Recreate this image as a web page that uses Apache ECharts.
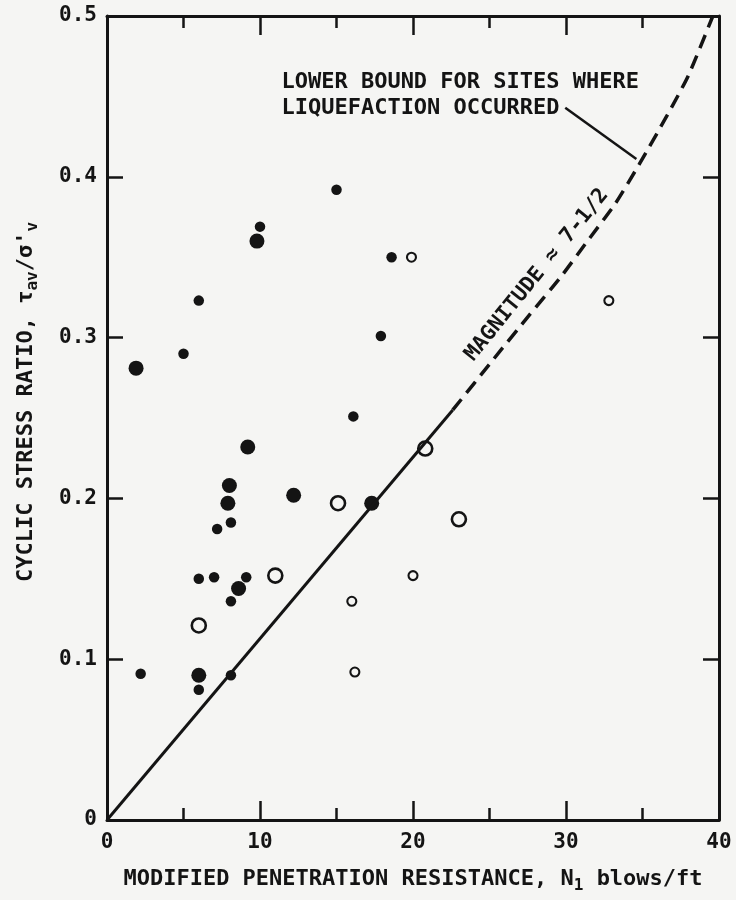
<!DOCTYPE html>
<html>
<head>
<meta charset="utf-8">
<script src="https://cdn.jsdelivr.net/npm/echarts@6/dist/echarts.min.js"></script>
<style>
  html, body { margin: 0; padding: 0; background: #f5f5f3; }
  #chart { width: 736px; height: 900px; }
</style>
</head>
<body>
<div id="chart"></div>
<script>
// sites where liquefaction occurred (filled) and did not (open), [N1, ratio]
const liqLarge = [[1.9, 0.281], [9.8, 0.360], [9.2, 0.232], [8.0, 0.208], [7.9, 0.197],
  [12.2, 0.202], [17.3, 0.197], [8.6, 0.144], [6.0, 0.090]]
const liqSmall = [[5.0, 0.290], [6.0, 0.323], [10.0, 0.369], [15.0, 0.392], [18.6, 0.350],
  [17.9, 0.301], [16.1, 0.251], [8.1, 0.185], [7.2, 0.181], [6.0, 0.150], [7.0, 0.151],
  [9.1, 0.151], [8.1, 0.136], [2.2, 0.091], [6.0, 0.081], [8.1, 0.090]]
const noLiqLarge = [[11.0, 0.152], [6.0, 0.121], [15.1, 0.197], [20.8, 0.231], [23.0, 0.187]]
const noLiqSmall = [[19.9, 0.350], [32.8, 0.323], [20.0, 0.152], [16.0, 0.136], [16.2, 0.092]]

// lower bound curve
const boundSolid = [[0, 0], [22.6, 0.255]]
const boundDashed = [[22.6, 0.255], [25.3, 0.287], [27.6, 0.314], [29.6, 0.337], [31.4, 0.360],
  [33.2, 0.383], [34.8, 0.408], [36.6, 0.438], [38.0, 0.463], [39.6, 0.5]]

// annotations
const boundNote = [11.4, 0.451]
const boundNoteText = 'LOWER BOUND FOR SITES WHERE\nLIQUEFACTION OCCURRED'
const arrowFrom = [29.95, 0.443]
const arrowTo = [34.6, 0.411]
const magNote = [28.1, 0.339]
const magNoteText = 'MAGNITUDE \u2248 7-1/2'

const ink = '#141414'
const paper = '#f5f5f3'
const font = 'DejaVu Sans Mono'

const chart = echarts.init(document.getElementById('chart'))

const xBase = {
  type: 'value', min: 0, max: 40, interval: 10,
  axisLine: { show: true, onZero: false, lineStyle: { color: ink, width: 3 } },
  axisTick: { show: true, inside: true, length: 19, lineStyle: { color: ink, width: 2.5 } },
  minorTick: { show: true, splitNumber: 2, length: 12, lineStyle: { color: ink, width: 2.5 } },
  splitLine: { show: false }
}
const yBase = {
  type: 'value', min: 0, max: 0.5, interval: 0.1,
  axisLine: { show: true, onZero: false, lineStyle: { color: ink, width: 3 } },
  axisTick: { show: true, inside: true, length: 16, lineStyle: { color: ink, width: 2.5 } },
  splitLine: { show: false }
}

chart.setOption({
  backgroundColor: paper,
  animation: false,
  grid: { left: 107, right: 17, top: 16, bottom: 80 },
  xAxis: [
    Object.assign({}, xBase, {
      position: 'bottom',
      axisLabel: { color: ink, fontFamily: font, fontSize: 21, fontWeight: 'bold', margin: 12 },
      name: 'MODIFIED PENETRATION RESISTANCE, N{s|1} blows/ft',
      nameLocation: 'middle',
      nameGap: 44,
      nameTextStyle: {
        color: ink, fontFamily: font, fontSize: 22, fontWeight: 'bold', lineHeight: 30,
        rich: { s: { fontFamily: font, fontSize: 16, fontWeight: 'bold', color: ink, lineHeight: 14, verticalAlign: 'bottom' } }
      }
    }),
    Object.assign({}, xBase, { position: 'top', axisLabel: { show: false } })
  ],
  yAxis: [
    Object.assign({}, yBase, {
      position: 'left',
      axisLabel: { color: ink, fontFamily: font, fontSize: 21, fontWeight: 'bold', margin: 10 },
      name: 'CYCLIC STRESS RATIO, \u03c4{s|av}/\u03c3\'{s|v}',
      nameLocation: 'middle',
      nameRotate: 90,
      nameGap: 66,
      nameTextStyle: {
        color: ink, fontFamily: font, fontSize: 22, fontWeight: 'bold', lineHeight: 30,
        padding: [0, 0, 0, 32],
        rich: { s: { fontFamily: font, fontSize: 16, fontWeight: 'bold', color: ink, lineHeight: 14, verticalAlign: 'bottom' } }
      }
    }),
    Object.assign({}, yBase, { position: 'right', axisLabel: { show: false } })
  ],
  series: [
    {
      name: 'bound', type: 'line', data: boundSolid, showSymbol: false, silent: true,
      lineStyle: { color: ink, width: 3 }
    },
    {
      name: 'bound dashed', type: 'line', data: boundDashed, showSymbol: false, silent: true,
      smooth: 0.2,
      lineStyle: { color: ink, width: 3.5, type: [14, 8] },
      markLine: {
        silent: true,
        symbol: ['none', 'arrow'],
        symbolSize: [0, 15],
        label: { show: false },
        lineStyle: { color: ink, width: 2.5, type: 'solid' },
        data: [[{ coord: arrowFrom }, { coord: arrowTo }]]
      }
    },
    {
      name: 'liquefaction', type: 'scatter', data: liqLarge, symbol: 'circle', symbolSize: 15,
      itemStyle: { color: ink, opacity: 1 }
    },
    {
      name: 'liquefaction small', type: 'scatter', data: liqSmall, symbol: 'circle', symbolSize: 10.5,
      itemStyle: { color: ink, opacity: 1 }
    },
    {
      name: 'no liquefaction', type: 'scatter', data: noLiqLarge, symbol: 'circle', symbolSize: 14,
      itemStyle: { color: paper, borderColor: ink, borderWidth: 2.6, opacity: 1 }
    },
    {
      name: 'no liquefaction small', type: 'scatter', data: noLiqSmall, symbol: 'circle', symbolSize: 9,
      itemStyle: { color: paper, borderColor: ink, borderWidth: 2.1, opacity: 1 }
    },
    {
      name: 'notes', type: 'scatter', symbolSize: 0, silent: true,
      itemStyle: { opacity: 1 },
      data: [
        {
          value: boundNote,
          label: {
            show: true, position: 'right', distance: 0, formatter: boundNoteText,
            color: ink, fontFamily: font, fontSize: 22, fontWeight: 'bold', lineHeight: 26, align: 'left'
          }
        },
        {
          value: magNote,
          label: {
            show: true, position: 'inside', rotate: 51, formatter: magNoteText,
            color: ink, fontFamily: font, fontSize: 21, fontWeight: 'bold'
          }
        }
      ]
    }
  ]
})
</script>
</body>
</html>
